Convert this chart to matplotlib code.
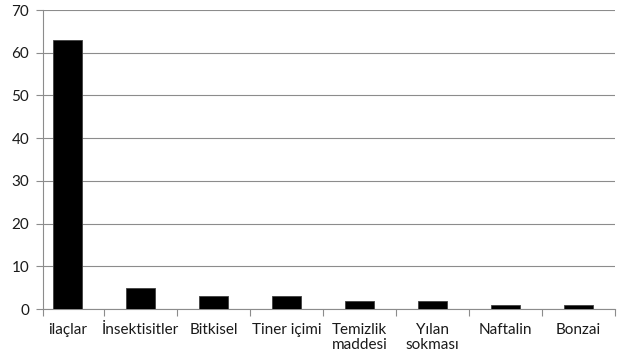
import matplotlib
matplotlib.use('Agg')
import matplotlib.pyplot as plt
import numpy as np

categories = ["ilaçlar", "İnsektisitler", "Bitkisel", "Tiner içimi",
              "Temizlik\nmaddesi", "Yılan\nsokması", "Naftalin", "Bonzai"]
values = [63, 5, 3, 3, 2, 2, 1, 1]
y_ticks = [0, 10, 20, 30, 40, 50, 60, 70]

plt.rcParams['font.family'] = ['Lato', 'DejaVu Sans']

fig = plt.figure(figsize=(6.26, 3.59), dpi=100)
ax = fig.add_axes([0.0687, 0.139, 0.9137, 0.833])

x = np.arange(len(categories))
ax.bar(x, values, width=0.4, color="black", edgecolor="#404040", lw=0.6, zorder=3)

# first category is a bit clipped by the value axis in the original
x_left = -0.336
ax.set_xlim(x_left, len(categories) - 0.5)
ax.set_ylim(0, 70)
ax.set_yticks(y_ticks)
ax.yaxis.grid(True, color="#8c8c8c", lw=0.8, zorder=0)

# category boundary ticks, labels centered on the bars
ax.set_xticks([x_left] + list(np.arange(1, len(categories) + 1) - 0.5))
ax.set_xticklabels([])
ax.set_xticks(x, minor=True)
ax.set_xticklabels(categories, minor=True, fontsize=11, color="#1a1a1a",
                   va="top", linespacing=1.05)
ax.tick_params(axis="x", which="minor", length=0, pad=10)
ax.tick_params(axis="x", which="major", length=5, color="#8c8c8c", direction="out")
ax.tick_params(axis="y", length=5, color="#8c8c8c", labelsize=11,
               labelcolor="#1a1a1a", pad=5)

for side in ["top", "right"]:
    ax.spines[side].set_visible(False)
for side in ["left", "bottom"]:
    ax.spines[side].set_color("#8c8c8c")
    ax.spines[side].set_linewidth(0.8)

fig.savefig("out.png", dpi=100, facecolor="white")
